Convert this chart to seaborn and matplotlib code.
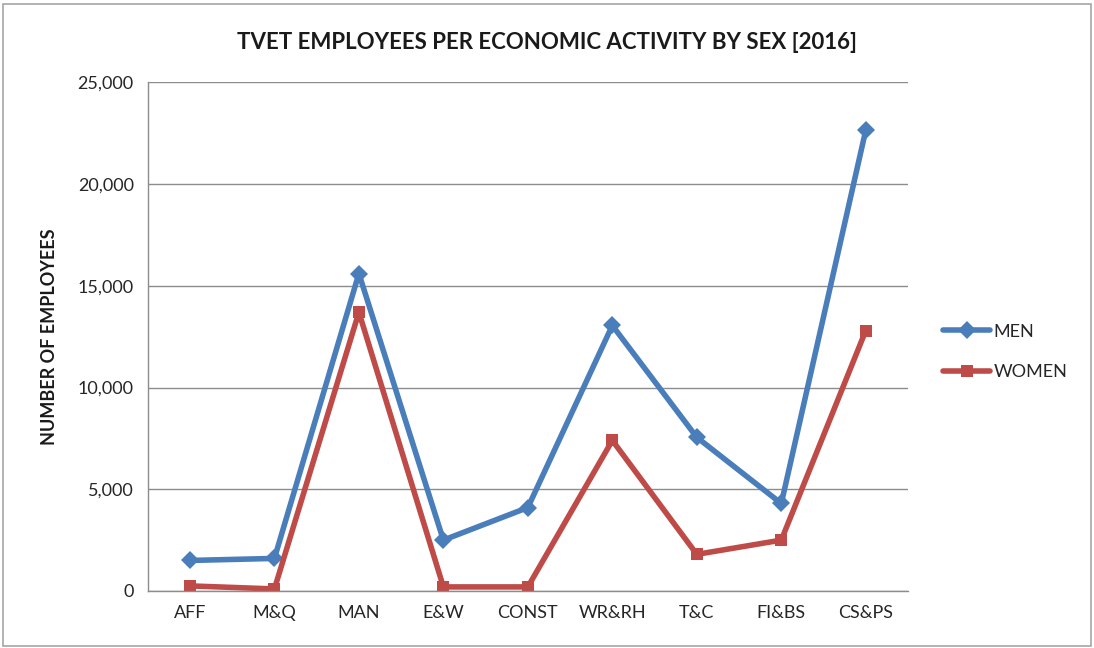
import matplotlib
matplotlib.use("Agg")
import matplotlib.pyplot as plt
import seaborn as sns
import pandas as pd
from matplotlib.patches import Rectangle
from matplotlib.ticker import FuncFormatter

categories = ["AFF", "M&Q", "MAN", "E&W", "CONST", "WR&RH", "T&C", "FI&BS", "CS&PS"]
men = [1500, 1600, 15600, 2500, 4100, 13050, 7550, 4300, 22650]
women = [250, 100, 13700, 200, 200, 7400, 1800, 2500, 12800]

sns.set_theme(style="white")
plt.rcParams['font.family'] = ['Lato', 'DejaVu Sans']

df = pd.DataFrame({
    "cat": categories * 2,
    "x": list(range(len(categories))) * 2,
    "value": men + women,
    "series": ["MEN"] * len(men) + ["WOMEN"] * len(women),
})

fig = plt.figure(figsize=(10.94, 6.48), dpi=100)
fig.patches.append(Rectangle((0.003, 0.003), 0.994, 0.991, transform=fig.transFigure,
                             fill=False, edgecolor="#a6a6a6", linewidth=1.2))
ax = fig.add_axes([0.135, 0.088, 0.695, 0.785])

palette = {"MEN": "#4a7ebb", "WOMEN": "#be4b48"}
sns.lineplot(data=df, x="x", y="value", hue="series", style="series",
             markers={"MEN": "D", "WOMEN": "s"}, dashes=False, palette=palette,
             linewidth=4, markersize=9, markeredgewidth=0, ax=ax)

ax.set_xlim(-0.5, len(categories) - 0.5)
ax.set_ylim(0, 25000)
ax.set_xticks(range(len(categories)))
ax.set_xticklabels(categories)
ax.set_yticks(range(0, 25001, 5000))
ax.yaxis.set_major_formatter(FuncFormatter(lambda v, p: f"{int(v):,}"))
ax.tick_params(axis="both", labelsize=13, colors="#262626", length=0, pad=10)
ax.grid(axis="y", color="#8c8c8c", linewidth=1)
ax.set_axisbelow(True)
for s in ["top", "right"]:
    ax.spines[s].set_visible(False)
for s in ["left", "bottom"]:
    ax.spines[s].set_color("#8c8c8c")
    ax.spines[s].set_linewidth(1)
ax.set_xlabel("")
ax.set_ylabel("NUMBER OF EMPLOYEES", fontsize=13, fontweight="bold", color="#1a1a1a", labelpad=14)

fig.text(0.5, 0.935, "TVET EMPLOYEES PER ECONOMIC ACTIVITY BY SEX [2016]",
         ha="center", va="center", fontsize=16, fontweight="bold", color="#1a1a1a")

leg = ax.legend(loc="center left", bbox_to_anchor=(1.025, 0.47), frameon=False,
                fontsize=13, handlelength=2.6, labelspacing=1.35, handletextpad=0.2)
for t in leg.get_texts():
    t.set_color("#262626")

fig.savefig("out.png", dpi=100)
